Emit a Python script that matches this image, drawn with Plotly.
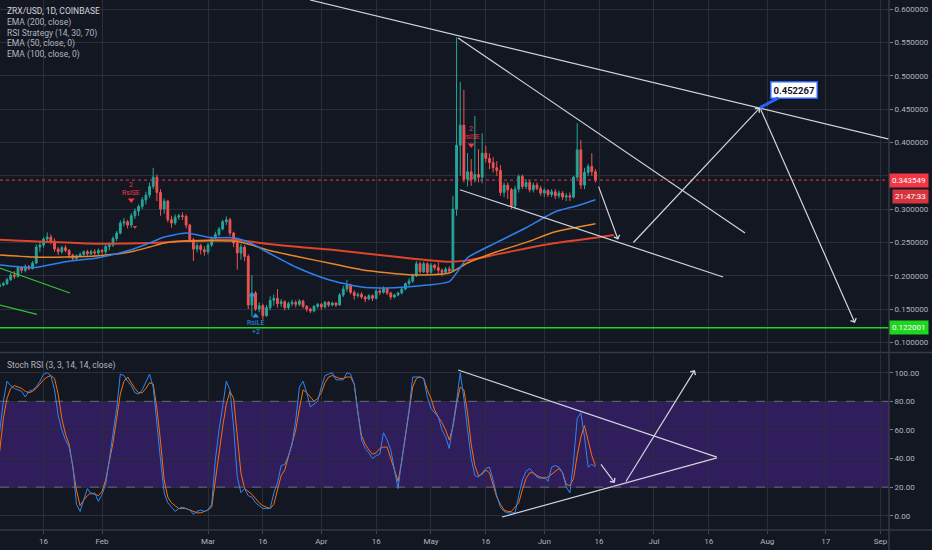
import plotly.graph_objects as go
import pandas as pd

# ---------------- data ----------------
first_day = "2020-01-04"

opens = [
    .184, .186, .188, .194, .201, .199, .212, .208, .214, .211,
    .219, .243, .246, .255, .258, .252, .240, .236, .242, .238,
    .231, .226, .230, .232, .236, .233, .236, .234, .238, .236,
    .244, .246, .256, .264, .279, .281, .276, .290, .297, .304,
    .314, .321, .334, .348, .325, .300, .312, .284, .279, .288,
    .290, .289, .276, .254, .240, .245, .239, .236, .246, .256,
    .262, .270, .281, .284, .264, .249, .234, .243, .229, .156,
    .174, .150, .155, .140, .152, .163, .166, .158, .161, .152,
    .158, .160, .157, .162, .154, .150, .147, .154, .157, .153,
    .160, .156, .159, .156, .171, .180, .186, .175, .170, .172,
    .168, .165, .170, .166, .177, .175, .181, .174, .168, .171,
    .174, .180, .188, .192, .200, .218, .206, .218, .205, .216,
    .212, .208, .205, .210, .207, .300, .396, .426, .345, .356,
    .345, .352, .348, .384, .376, .370, .362, .358, .325, .336,
    .329, .305, .330, .349, .334, .340, .329, .336, .331, .324,
    .328, .322, .326, .320, .324, .318, .320, .318, .348, .389,
    .336, .355, .364, .356]
highs = [
    .190, .191, .197, .204, .207, .215, .214, .217, .216, .222,
    .247, .252, .258, .265, .262, .256, .243, .245, .246, .240,
    .233, .232, .235, .238, .239, .239, .240, .241, .240, .247,
    .250, .259, .267, .283, .287, .284, .294, .301, .307, .318,
    .326, .340, .362, .352, .330, .316, .314, .290, .292, .293,
    .295, .292, .278, .257, .249, .248, .244, .249, .259, .266,
    .273, .284, .289, .287, .266, .251, .248, .246, .232, .201,
    .177, .160, .158, .156, .169, .172, .180, .165, .163, .161,
    .164, .163, .165, .164, .156, .152, .156, .159, .159, .162,
    .162, .161, .160, .174, .185, .194, .188, .178, .175, .175,
    .170, .172, .172, .180, .181, .184, .182, .176, .173, .176,
    .182, .190, .196, .203, .222, .221, .221, .220, .219, .218,
    .220, .211, .213, .214, .320, .558, .491, .479, .384, .375,
    .440, .390, .414, .395, .384, .378, .372, .366, .340, .340,
    .332, .335, .352, .352, .345, .343, .340, .340, .335, .332,
    .330, .330, .330, .328, .327, .324, .325, .350, .429, .404,
    .362, .368, .384, .360]
lows = [
    .182, .184, .186, .192, .195, .197, .204, .205, .208, .209,
    .217, .236, .242, .249, .247, .236, .231, .233, .235, .226,
    .222, .224, .227, .230, .230, .231, .230, .231, .233, .232,
    .238, .243, .252, .262, .274, .271, .272, .285, .290, .300,
    .307, .317, .330, .312, .290, .293, .280, .272, .276, .284,
    .284, .271, .250, .222, .235, .232, .230, .232, .243, .252,
    .259, .268, .276, .260, .243, .209, .224, .222, .150, .139,
    .147, .145, .134, .138, .148, .155, .152, .153, .148, .149,
    .154, .152, .154, .151, .146, .144, .145, .151, .149, .151,
    .153, .154, .153, .155, .168, .176, .172, .164, .167, .165,
    .160, .163, .162, .164, .171, .173, .171, .164, .166, .169,
    .172, .178, .185, .189, .198, .203, .204, .201, .203, .208,
    .204, .199, .203, .204, .205, .290, .350, .340, .334, .335,
    .340, .340, .339, .370, .360, .355, .350, .320, .318, .315,
    .300, .300, .325, .330, .330, .325, .325, .328, .320, .318,
    .318, .318, .315, .316, .314, .312, .312, .316, .345, .330,
    .330, .350, .350, .340]
closes = [
    .186, .188, .194, .201, .199, .212, .208, .214, .211, .219,
    .243, .246, .255, .258, .252, .240, .236, .242, .238, .231,
    .226, .230, .232, .236, .233, .236, .234, .238, .236, .244,
    .246, .256, .264, .279, .281, .276, .290, .297, .304, .314,
    .321, .334, .348, .325, .300, .312, .284, .279, .288, .290,
    .289, .276, .254, .240, .245, .239, .236, .246, .256, .262,
    .270, .281, .284, .264, .249, .234, .243, .229, .156, .174,
    .150, .155, .140, .152, .163, .166, .158, .161, .152, .158,
    .160, .157, .162, .154, .150, .147, .154, .157, .153, .160,
    .156, .159, .156, .171, .180, .186, .175, .170, .172, .168,
    .165, .170, .166, .177, .175, .181, .174, .168, .171, .174,
    .180, .188, .192, .200, .218, .206, .218, .205, .216, .212,
    .208, .205, .210, .207, .300, .396, .426, .345, .356, .345,
    .352, .348, .384, .376, .370, .362, .358, .325, .336, .329,
    .305, .330, .349, .334, .340, .329, .336, .331, .324, .328,
    .322, .326, .320, .324, .318, .320, .318, .348, .389, .336,
    .355, .364, .356, .343549]

stoch_k = [
    59, 80, 94, 91, 89, 88, 87, 83, 87, 88,
    90, 94, 99, 100, 98, 88, 70, 60, 53, 48,
    35, 8, 3, 11, 19, 15, 16, 10, 15, 22,
    39, 58, 75, 99, 98, 94, 91, 86, 85, 88,
    93, 99, 90, 62, 39, 16, 9, 6, 3, 5,
    6, 5, 4, 1, 3, 4, 3, 4, 8, 39,
    60, 76, 94, 88, 62, 27, 16, 19, 14, 13,
    9, 7, 5, 5, 5, 16, 23, 35, 36, 42,
    50, 67, 90, 94, 86, 76, 78, 80, 90, 98,
    99, 100, 95, 95, 95, 100, 99, 92, 72, 53,
    47, 44, 40, 42, 43, 58, 53, 46, 32, 19,
    39, 58, 74, 97, 97, 97, 96, 83, 75, 72,
    69, 60, 55, 47, 62, 80, 100, 82, 60, 40,
    28, 27, 30, 33, 34, 25, 14, 6, 3, 2,
    2, 2, 14, 25, 31, 33, 30, 27, 26, 27,
    24, 34, 35, 34, 30, 20, 16, 38, 68, 72,
    55, 34, 36, 34]
stoch_d = [
    45, 68, 82, 89, 91, 90, 89, 87, 86, 87,
    89, 92, 95, 97, 98, 96, 85, 68, 57, 50,
    35, 18, 7, 11, 14, 16, 15, 14, 17, 25,
    38, 51, 68, 85, 94, 97, 93, 89, 86, 86,
    89, 93, 92, 75, 52, 25, 13, 9, 7, 5,
    5, 5, 4, 3, 2, 2, 3, 4, 6, 25,
    45, 62, 78, 87, 82, 58, 30, 19, 17, 15,
    12, 9, 7, 6, 5, 8, 18, 28, 32, 41,
    50, 60, 75, 88, 86, 83, 80, 82, 86, 93,
    97, 98, 97, 96, 96, 97, 97, 92, 72, 56,
    50, 46, 43, 44, 47, 48, 48, 40, 32, 24,
    38, 55, 72, 90, 96, 97, 96, 88, 82, 74,
    69, 65, 60, 53, 62, 78, 90, 88, 72, 50,
    35, 28, 29, 32, 30, 22, 13, 8, 4, 3,
    3, 6, 9, 18, 26, 30, 30, 28, 27, 26,
    27, 29, 31, 33, 30, 22, 21, 26, 42, 55,
    63, 52, 42, 35]

ema50_dates = ["2020-01-04", "2020-01-13", "2020-01-22", "2020-01-31", "2020-02-09",
               "2020-02-14", "2020-02-18", "2020-02-24", "2020-03-02", "2020-03-08",
               "2020-03-13", "2020-03-17", "2020-03-25", "2020-04-03", "2020-04-12",
               "2020-04-21", "2020-04-30", "2020-05-06", "2020-05-09", "2020-05-11",
               "2020-05-19", "2020-05-27", "2020-06-04", "2020-06-10", "2020-06-15"]
ema50_vals = [.216, .212, .221, .227, .239, .249, .258, .264, .257, .257,
              .248, .236, .213, .194, .183, .182, .186, .191, .212, .227,
              .250, .272, .296, .305, .314]
ema100_dates = ["2020-01-04", "2020-01-13", "2020-01-22", "2020-01-31", "2020-02-09",
                "2020-02-14", "2020-02-18", "2020-02-24", "2020-03-08", "2020-03-13",
                "2020-03-17", "2020-03-26", "2020-04-04", "2020-04-12", "2020-04-26",
                "2020-05-06", "2020-05-11", "2020-05-19", "2020-05-27", "2020-06-04",
                "2020-06-15"]
ema100_vals = [.231, .228, .228, .230, .236, .243, .249, .252, .252, .246,
               .239, .228, .218, .209, .201, .204, .219, .236, .250, .266, .278]
ema200_dates = ["2020-01-04", "2020-01-31", "2020-02-14", "2020-02-24", "2020-03-08",
                "2020-03-17", "2020-03-26", "2020-04-04", "2020-04-22", "2020-05-06",
                "2020-05-11", "2020-05-19", "2020-05-27", "2020-06-04", "2020-06-15",
                "2020-06-20"]
ema200_vals = [.254, .248, .249, .252, .254, .248, .243, .239, .228, .221,
               .223, .232, .241, .249, .257, .261]

last_price = 0.343549
support_level = 0.122001
target_level = 0.452267
countdown = "21:47:33"

tick_dates = ["2020-01-16", "2020-02-01", "2020-03-01", "2020-03-16", "2020-04-01",
              "2020-04-16", "2020-05-01", "2020-05-16", "2020-06-01", "2020-06-16",
              "2020-07-01", "2020-07-16", "2020-08-01", "2020-08-17", "2020-09-01"]
tick_text = ["16", "Feb", "Mar", "16", "Apr", "16", "May", "16", "Jun", "16",
             "Jul", "16", "Aug", "17", "Sep"]
price_ticks = [0.1, 0.15, 0.2, 0.25, 0.3, 0.35, 0.4, 0.45, 0.5, 0.55, 0.6]
# the 0.35 label sits under the last-price tag, as in the original
price_tick_text = ["0.100000", "0.150000", "0.200000", "0.250000", "0.300000", "",
                   "0.400000", "0.450000", "0.500000", "0.550000", "0.600000"]
stoch_ticks = [0, 20, 40, 60, 80, 100]

# drawings on the price pane: ((date, price), (date, price))
price_lines = [
    (("2020-03-28 22:00", 0.614), ("2020-09-03 08:00", 0.405)),
    (("2020-05-08 10:00", 0.557), ("2020-07-25 22:00", 0.264)),
    (("2020-05-08 22:00", 0.329), ("2020-07-19 22:00", 0.198)),
]
green_lines = [
    (("2020-01-04 00:00", 0.2116), ("2020-01-23 05:00", 0.174)),
    (("2020-01-04 00:00", 0.156), ("2020-01-14 05:00", 0.142)),
]
# arrows: (tail, tip)
price_arrows = [
    (("2020-06-15 17:00", 0.336), ("2020-06-21 05:00", 0.254)),
    (("2020-06-25 00:00", 0.2476), ("2020-07-30 00:00", target_level)),
    (("2020-07-30 00:00", target_level), ("2020-08-25 00:00", 0.129)),
]
stoch_lines = [
    (("2020-05-08 10:00", 101.9), ("2020-07-18 05:00", 41.0)),
    (("2020-05-20 10:00", -0.9), ("2020-07-18 05:00", 40.4)),
]
stoch_arrows = [
    (("2020-06-16 05:00", 36.9), ("2020-06-20 07:00", 22.9)),
    (("2020-06-23 02:00", 22.9), ("2020-07-12 05:00", 101.9)),
]
# strategy signals
short_signals = [("2020-02-09", 0.3362, 0.3242, 0.3137), ("2020-05-12", 0.4203, 0.4078, 0.3962)]
exit_marks = [("2020-02-10", 0.273), ("2020-05-12", 0.345)]
long_signal = ("2020-03-14", 0.1395, 0.129, 0.116)
long_mark = ("2020-03-13", 0.171)

# ---------------- style ----------------
BG = "#131722"
GRID = "#2a2e39"
TXT = "#b2b5be"
LINE = "#d1d4dc"
FONT = "Roboto, sans-serif"
FS = 8
W, H = 932, 550
ML, MR, MT, MB = 0, 43, 0, 20
PW, PH = W - ML - MR, H - MT - MB
X0, X1 = "2020-01-04 02:00", "2020-09-03 07:26"


def py(p):
    return (PH - p) / PH


def px(p):
    return p / PW


dates = pd.date_range(first_day, periods=len(closes), freq="D")

fig = go.Figure()

fig.add_trace(go.Candlestick(
    x=dates, open=opens, high=highs, low=lows, close=closes,
    xaxis="x", yaxis="y",
    increasing=dict(line=dict(color="#26a69a", width=1), fillcolor="#26a69a"),
    decreasing=dict(line=dict(color="#ef5350", width=1), fillcolor="#ef5350"),
    whiskerwidth=0, showlegend=False, hoverinfo="skip"))

for d, v, c, w in [(ema200_dates, ema200_vals, "#e0452b", 2),
                   (ema100_dates, ema100_vals, "#e8862a", 1.5),
                   (ema50_dates, ema50_vals, "#2f80ed", 1.5)]:
    fig.add_trace(go.Scatter(x=d, y=v, mode="lines", line=dict(color=c, width=w, shape="spline", smoothing=0.6),
                             xaxis="x", yaxis="y", showlegend=False, hoverinfo="skip"))

for a, b in price_lines:
    fig.add_trace(go.Scatter(x=[a[0], b[0]], y=[a[1], b[1]], mode="lines",
                             line=dict(color=LINE, width=1.2), xaxis="x", yaxis="y",
                             showlegend=False, hoverinfo="skip"))
for a, b in green_lines:
    fig.add_trace(go.Scatter(x=[a[0], b[0]], y=[a[1], b[1]], mode="lines",
                             line=dict(color="#33c033", width=1.2), xaxis="x", yaxis="y",
                             showlegend=False, hoverinfo="skip"))

# strategy markers
fig.add_trace(go.Scatter(x=[s[0] for s in short_signals], y=[s[3] for s in short_signals],
                         mode="markers", marker=dict(symbol="triangle-down", size=6, color="#f23645"),
                         xaxis="x", yaxis="y", showlegend=False, hoverinfo="skip"))
fig.add_trace(go.Scatter(x=[m[0] for m in exit_marks], y=[m[1] for m in exit_marks],
                         mode="markers", marker=dict(symbol="triangle-down", size=4, color="#f23645"),
                         xaxis="x", yaxis="y", showlegend=False, hoverinfo="skip"))
fig.add_trace(go.Scatter(x=[long_signal[0], long_mark[0]], y=[long_signal[1], long_mark[1]],
                         mode="markers", marker=dict(symbol="triangle-up", size=6, color="#2196f3"),
                         xaxis="x", yaxis="y", showlegend=False, hoverinfo="skip"))

# stoch
fig.add_trace(go.Scatter(x=dates, y=stoch_d, mode="lines", line=dict(color="#ff6d00", width=1),
                         xaxis="x2", yaxis="y2", showlegend=False, hoverinfo="skip"))
fig.add_trace(go.Scatter(x=dates, y=stoch_k, mode="lines", line=dict(color="#2e86f0", width=1),
                         xaxis="x2", yaxis="y2", showlegend=False, hoverinfo="skip"))
for a, b in stoch_lines:
    fig.add_trace(go.Scatter(x=[a[0], b[0]], y=[a[1], b[1]], mode="lines",
                             line=dict(color=LINE, width=1.2), xaxis="x2", yaxis="y2",
                             showlegend=False, hoverinfo="skip"))

shapes = [
    dict(type="rect", xref="paper", yref="y2", x0=0, x1=1, y0=20, y1=80,
         fillcolor="rgba(100,40,200,0.35)", line=dict(width=0), layer="between"),
    dict(type="line", xref="paper", yref="y2", x0=0, x1=1, y0=80, y1=80,
         line=dict(color="rgba(120,123,134,0.8)", width=1, dash="dash")),
    dict(type="line", xref="paper", yref="y2", x0=0, x1=1, y0=20, y1=20,
         line=dict(color="rgba(120,123,134,0.8)", width=1, dash="dash")),
    dict(type="line", xref="paper", yref="y", x0=0, x1=1, y0=last_price, y1=last_price,
         line=dict(color="#f23645", width=1, dash="dot")),
    dict(type="line", xref="paper", yref="y", x0=0, x1=1, y0=support_level, y1=support_level,
         line=dict(color="#1fd61f", width=1.5)),
    dict(type="line", xref="paper", yref="paper", x0=0, x1=W / PW, y0=py(352.5), y1=py(352.5),
         line=dict(color="#363a45", width=1.5)),
    dict(type="line", xref="paper", yref="paper", x0=0, x1=W / PW, y0=0, y1=0,
         line=dict(color="#363a45", width=1.5)),
    dict(type="line", xref="paper", yref="paper", x0=1, x1=1, y0=-MB / PH, y1=1,
         line=dict(color="#363a45", width=1.5)),
]

ann = []
legend_rows = [("ZRX/USD, 1D, COINBASE", 11, "#d1d4dc"), ("EMA (200, close)", 22.7, TXT),
               ("RSI Strategy (14, 30, 70)", 33.3, TXT), ("EMA (50, close, 0)", 43.7, TXT),
               ("EMA (100, close, 0)", 54.3, TXT), ("Stoch RSI (3, 3, 14, 14, close)", 365, TXT)]
for t, yy, c in legend_rows:
    ann.append(dict(text=t, xref="paper", yref="paper", x=px(5), y=py(yy), xanchor="left",
                    yanchor="middle", showarrow=False, font=dict(size=8.5, color=c, family=FONT)))

for tail, tip in price_arrows:
    ann.append(dict(x=tip[0], y=tip[1], ax=tail[0], ay=tail[1], xref="x", yref="y", axref="x", ayref="y",
                    text="", showarrow=True, arrowhead=4, arrowsize=1, arrowwidth=1.2, arrowcolor=LINE))
for tail, tip in stoch_arrows:
    ann.append(dict(x=tip[0], y=tip[1], ax=tail[0], ay=tail[1], xref="x2", yref="y2", axref="x2", ayref="y2",
                    text="", showarrow=True, arrowhead=4, arrowsize=1, arrowwidth=1.2, arrowcolor=LINE))

ann.append(dict(x="2020-07-30", y=target_level, xref="x", yref="y", text="<b>%.6f</b>" % target_level,
                showarrow=True, arrowhead=0, arrowwidth=3, arrowcolor="#2962ff", ax=34, ay=-18,
                bgcolor="#ffffff", bordercolor="#2962ff", borderwidth=1.5, borderpad=2,
                font=dict(size=9.5, color="#131722", family=FONT)))

for d, y1, y2, y3 in short_signals:
    ann.append(dict(x=d, y=y1, xref="x", yref="y", text="2", showarrow=False,
                    font=dict(size=7, color="#f23645", family=FONT)))
    ann.append(dict(x=d, y=y2, xref="x", yref="y", text="RsiSE", showarrow=False,
                    font=dict(size=7, color="#f23645", family=FONT)))
ann.append(dict(x=long_signal[0], y=long_signal[2], xref="x", yref="y", text="RsiLE", showarrow=False,
                font=dict(size=7, color="#2196f3", family=FONT)))
ann.append(dict(x=long_signal[0], y=long_signal[3], xref="x", yref="y", text="+2", showarrow=False,
                font=dict(size=7, color="#2196f3", family=FONT)))

# price tags on the axis
ann.append(dict(x=1, y=last_price, xref="paper", yref="y", xanchor="left", yanchor="middle",
                text="%.6f" % last_price, showarrow=False, bgcolor="#f23645", borderpad=2,
                font=dict(size=FS, color="#ffffff", family=FONT)))
ann.append(dict(x=1, y=last_price, xref="paper", yref="y", xanchor="left", yanchor="middle", yshift=-16,
                text=countdown, showarrow=False, bgcolor="#d8343e", borderpad=2, xshift=3,
                font=dict(size=FS, color="#ffffff", family=FONT)))
ann.append(dict(x=1, y=support_level, xref="paper", yref="y", xanchor="left", yanchor="middle",
                text="%.6f" % support_level, showarrow=False, bgcolor="#1fd61f", borderpad=2,
                font=dict(size=FS, color="#ffffff", family=FONT)))

axis_common = dict(showgrid=True, gridcolor=GRID, gridwidth=1, zeroline=False, fixedrange=True)
fig.update_layout(
    width=W, height=H, autosize=False,
    margin=dict(l=ML, r=MR, t=MT, b=MB, pad=0),
    paper_bgcolor=BG, plot_bgcolor=BG,
    hovermode=False, showlegend=False,
    font=dict(family=FONT, size=FS, color=TXT),
    xaxis=dict(domain=[0, 1], anchor="y", range=[X0, X1], type="date", tickvals=tick_dates,
               showticklabels=False, ticks="", rangeslider=dict(visible=False), **axis_common),
    xaxis2=dict(domain=[0, 1], anchor="y2", range=[X0, X1], type="date", tickvals=tick_dates,
                ticktext=tick_text, ticks="outside", ticklen=3, tickcolor="#434651",
                tickfont=dict(size=FS, color=TXT, family=FONT), **axis_common),
    yaxis=dict(domain=[py(352), 1], anchor="x", side="right", range=[0.08544, 0.61396],
               tickvals=price_ticks, ticktext=price_tick_text, ticks="outside", ticklen=3,
               tickcolor="#787b86", tickfont=dict(size=FS, color=TXT, family=FONT), **axis_common),
    yaxis2=dict(domain=[0, py(354)], anchor="x2", side="right", range=[-10.0, 113.08],
                tickvals=stoch_ticks, tickformat=".2f", ticks="outside", ticklen=3, tickcolor="#787b86",
                tickfont=dict(size=FS, color=TXT, family=FONT), **axis_common),
    shapes=shapes, annotations=ann,
)

fig.write_html("out.html", config={"displayModeBar": False},
               post_script="document.body.style.margin='0';document.body.style.padding='0';"
                           "document.body.style.background='#131722';")
